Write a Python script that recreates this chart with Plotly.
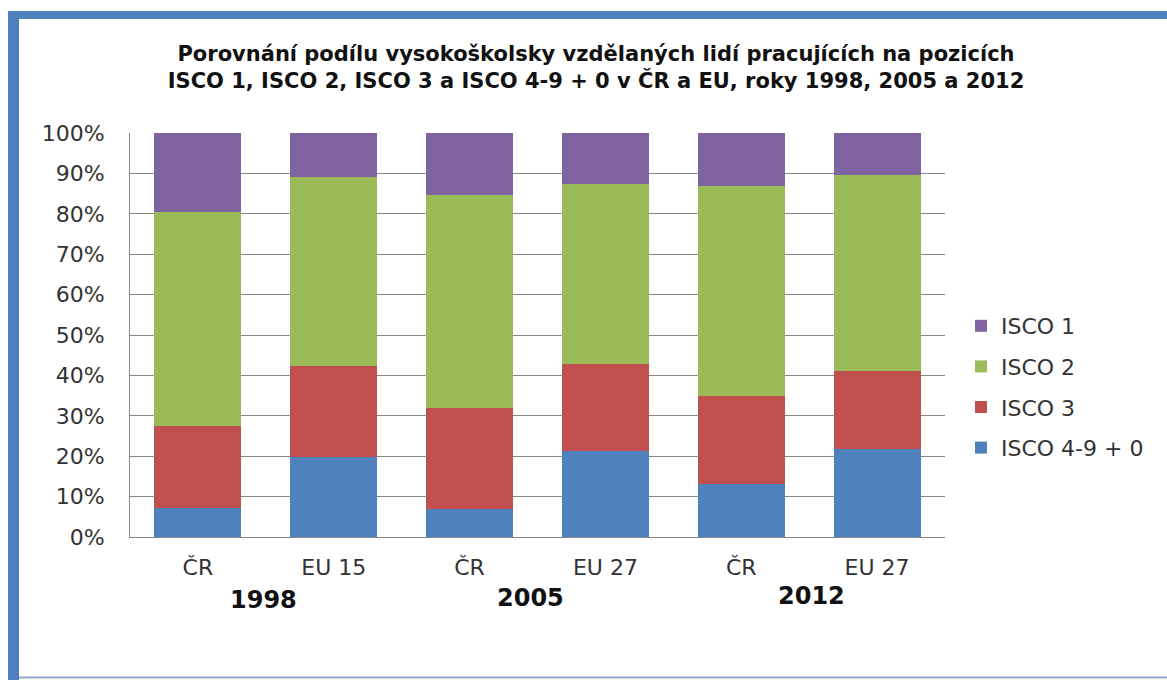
import plotly.graph_objects as go

categories = ["ČR", "EU 15", "ČR", "EU 27", "ČR", "EU 27"]
years = ["1998", "2005", "2012"]
isco_4_9_0 = [7.3, 19.9, 6.9, 21.2, 13.1, 21.8]
isco_3 = [20.2, 22.5, 25.0, 21.6, 21.8, 19.4]
isco_2 = [52.9, 46.6, 52.8, 44.7, 52.0, 48.5]
isco_1 = [19.6, 11.0, 15.3, 12.5, 13.1, 10.3]
y_ticks = [0, 10, 20, 30, 40, 50, 60, 70, 80, 90, 100]

series = [
    ("ISCO 4-9 + 0", isco_4_9_0, "#4F81BD"),
    ("ISCO 3", isco_3, "#C0504D"),
    ("ISCO 2", isco_2, "#9BBB59"),
    ("ISCO 1", isco_1, "#8064A2"),
]

W, H = 1167, 680
L, R, T, B = 130, 945, 133, 537
pw, ph = R - L, B - T

def px(x):
    return (x - L) / pw

def py(y):
    return (B - y) / ph

xs = list(range(len(categories)))
fig = go.Figure()
n = len(series)
for i, (name, vals, col) in enumerate(series):
    fig.add_trace(go.Bar(
        x=xs, y=vals, name=name, marker=dict(color=col, line=dict(width=0)),
        legendgroup=name, legendrank=n - i,
    ))

fig.update_layout(
    width=W, height=H,
    margin=dict(l=L, r=W - R, t=T, b=H - B, pad=0),
    barmode="stack", bargap=0.36,
    paper_bgcolor="white", plot_bgcolor="white",
    font=dict(family="DejaVu Sans", color="#333333"),
    title=dict(
        text="<b>Porovnání podílu vysokoškolsky vzdělaných lidí pracujících na pozicích<br>"
             "ISCO 1, ISCO 2, ISCO 3 a ISCO 4-9 + 0 v ČR a EU, roky 1998, 2005 a 2012</b>",
        x=596 / W, xanchor="center", y=1 - 61 / H, yanchor="middle",
        font=dict(family="DejaVu Sans", size=21, color="#111111"),
    ),
    legend=dict(
        traceorder="grouped", tracegroupgap=9,
        x=px(961), xanchor="left", y=py(305), yanchor="top",
        font=dict(family="DejaVu Sans", size=22, color="#333333"),
        bgcolor="rgba(0,0,0,0)",
    ),
    showlegend=True,
)
fig.update_xaxes(
    range=[-0.5, 5.5], tickvals=xs, ticktext=categories,
    showgrid=False, showline=True, linecolor="#868686", linewidth=1,
    ticks="", tickfont=dict(family="DejaVu Sans", size=22, color="#333333"),
    ticklabelstandoff=11, zeroline=False,
)
fig.update_yaxes(
    range=[0, 100], tickvals=y_ticks, ticktext=[f"{v}%" for v in y_ticks],
    showgrid=True, gridcolor="#868686", gridwidth=1,
    showline=True, linecolor="#868686", linewidth=1,
    ticks="", tickfont=dict(family="DejaVu Sans", size=22, color="#333333"),
    ticklabelstandoff=20, zeroline=False,
)

year_x = [0.48, 2.445, 4.52]
year_y = [600, 598, 596]
for yr, xv, yv in zip(years, year_x, year_y):
    fig.add_annotation(
        x=xv, xref="x", y=py(yv), yref="paper", text=f"<b>{yr}</b>",
        showarrow=False, xanchor="center", yanchor="middle",
        font=dict(family="DejaVu Sans", size=24, color="#111111"),
    )

frame = "#4F81BD"
fig.add_shape(type="rect", xref="paper", yref="paper",
              x0=px(8), x1=px(19), y0=py(680), y1=py(11),
              fillcolor=frame, line=dict(width=0), layer="above")
fig.add_shape(type="rect", xref="paper", yref="paper",
              x0=px(8), x1=px(1167), y0=py(19), y1=py(11),
              fillcolor=frame, line=dict(width=0), layer="above")
fig.add_shape(type="line", xref="paper", yref="paper",
              x0=px(19), x1=px(1167), y0=py(677.5), y1=py(677.5),
              line=dict(color="#8FA8C8", width=2), layer="above")

fig.write_html("out.html", config={"displayModeBar": False},
               post_script="document.body.style.margin='0';document.body.style.overflow='hidden';")
